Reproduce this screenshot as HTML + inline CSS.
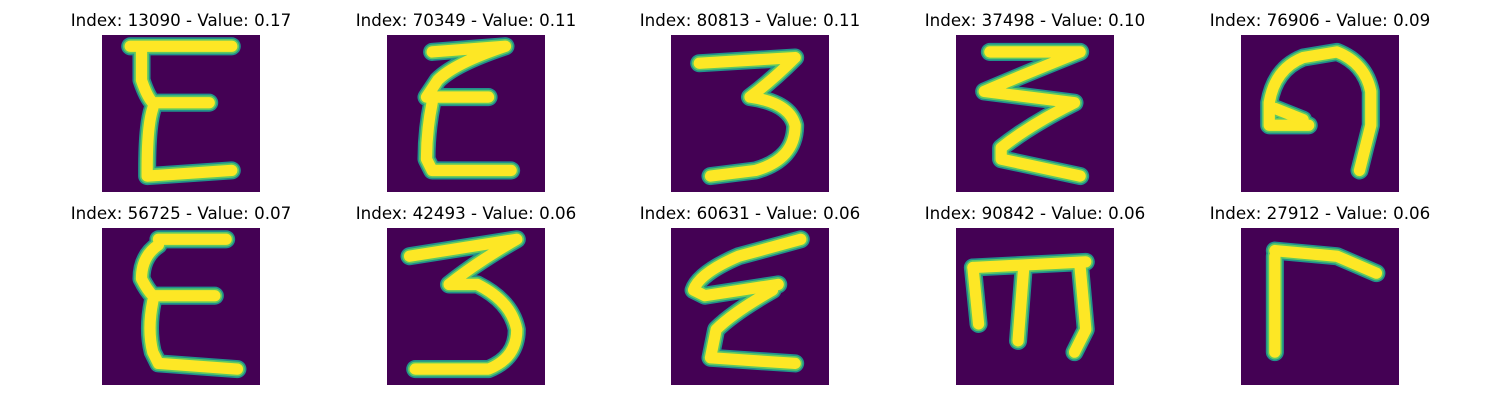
<!DOCTYPE html>
<html>
<head>
<meta charset="utf-8">
<style>
  html,body{margin:0;padding:0;background:#fff;}
  body{width:1500px;height:400px;overflow:hidden;}
  svg text{font-family:"DejaVu Sans","Liberation Sans",sans-serif;font-size:16.7px;fill:#000;}
</style>
</head>
<body>
<svg id="chart" width="1500" height="400" xmlns="http://www.w3.org/2000/svg">
  <rect width="1500" height="400" fill="#fff"/>
</svg>
<script>
const indices = [13090, 70349, 80813, 37498, 76906, 56725, 42493, 60631, 90842, 27912];
const values = [0.17, 0.11, 0.11, 0.10, 0.09, 0.07, 0.06, 0.06, 0.06, 0.06];
// glyph strokes in 28x28 image-pixel units
const glyphs = [
  ["M5,2 L23,2", "M7,3 L7,8 Q8,11 9,12 L19,12", "M9,13 Q8,16 8,24 L8,25 L23,24"],
  ["M8,3 L21,2 Q12,5 9,8 L7,11 L18,11", "M8,12 Q7,17 7,22 L8,24 L22,24"],
  ["M5,5 L22,4 Q18,8 14,11 Q21,12 22,16 Q22,22 15,24 L7,25"],
  ["M6,3 L22,3 Q12,7 5,10 L21,12 Q13,16 8,20 L8,22 L22,25"],
  ["M12,16 L5,16 L5,12 Q6,6 11,4 L17,3 Q22,5 23,10 L23,16 L21,24", "M6,13 L11,15"],
  ["M10,2 L22,2", "M10,3 Q7,5 7,9 Q8,11 9,12 L20,12", "M9,13 Q8,18 9,22 L10,24 L24,25"],
  ["M4,5 L23,2 Q16,6 11,10 L16,10 Q22,13 23,18 Q23,23 18,25 L5,25"],
  ["M23,2 L12,5 Q5,8 4,11 L6,12 L19,10", "M18,11 Q11,15 8,18 L7,23 L22,24"],
  ["M3,7 L23,6", "M3,7 L4,17", "M12,7 L11,20", "M22,7 L23,18 L21,22"],
  ["M6,4 L17,5 L24,8", "M6,5 L6,22"]
];
const NS = "http://www.w3.org/2000/svg";
const svg = document.getElementById("chart");
const colX = [102, 387, 671, 956, 1241];
const rowY = [35, 228];
const W = 158, H = 157, S = W / 28;

for (let i = 0; i < indices.length; i++) {
  const c = i % 5, r = Math.floor(i / 5);
  const x0 = colX[c], y0 = rowY[r];
  const g = document.createElementNS(NS, "g");
  
  
  const t = document.createElementNS(NS, "text");
  
  
  t.setAttribute("x", x0 + W / 2);
  t.setAttribute("y", y0 - 9);
  t.setAttribute("text-anchor", "middle");
  t.textContent = "Index: " + indices[i] + " - Value: " + values[i].toFixed(2);
  g.appendChild(t);
  const cp = document.createElementNS(NS, "clipPath");
  cp.setAttribute("id", "cp" + i);
  const cr = document.createElementNS(NS, "rect");
  cr.setAttribute("x", x0); cr.setAttribute("y", y0);
  cr.setAttribute("width", W); cr.setAttribute("height", H);
  cp.appendChild(cr); g.appendChild(cp);
  const bg = document.createElementNS(NS, "rect");
  
  
  bg.setAttribute("x", x0); bg.setAttribute("y", y0);
  bg.setAttribute("width", W); bg.setAttribute("height", H);
  bg.setAttribute("fill", "#440154");
  g.appendChild(bg);
  const clipG = document.createElementNS(NS, "g");
  clipG.setAttribute("clip-path", "url(#cp" + i + ")");
  const inner = document.createElementNS(NS, "g");
  inner.setAttribute("transform", "translate(" + x0 + "," + y0 + ") scale(" + S + ")");
  const layers = [["#21918c", 3.2], ["#5ec962", 2.6], ["#fde725", 2.0]];
  layers.forEach(([col, w]) => {
    glyphs[i].forEach(d => {
      const p = document.createElementNS(NS, "path");
      
      
      p.setAttribute("d", d);
      p.setAttribute("fill", "none");
      p.setAttribute("stroke", col);
      p.setAttribute("stroke-width", w);
      p.setAttribute("stroke-linecap", "round");
      p.setAttribute("stroke-linejoin", "round");
      inner.appendChild(p);
    });
  });
  clipG.appendChild(inner);
  g.appendChild(clipG);
  svg.appendChild(g);
}
</script>
</body>
</html>
